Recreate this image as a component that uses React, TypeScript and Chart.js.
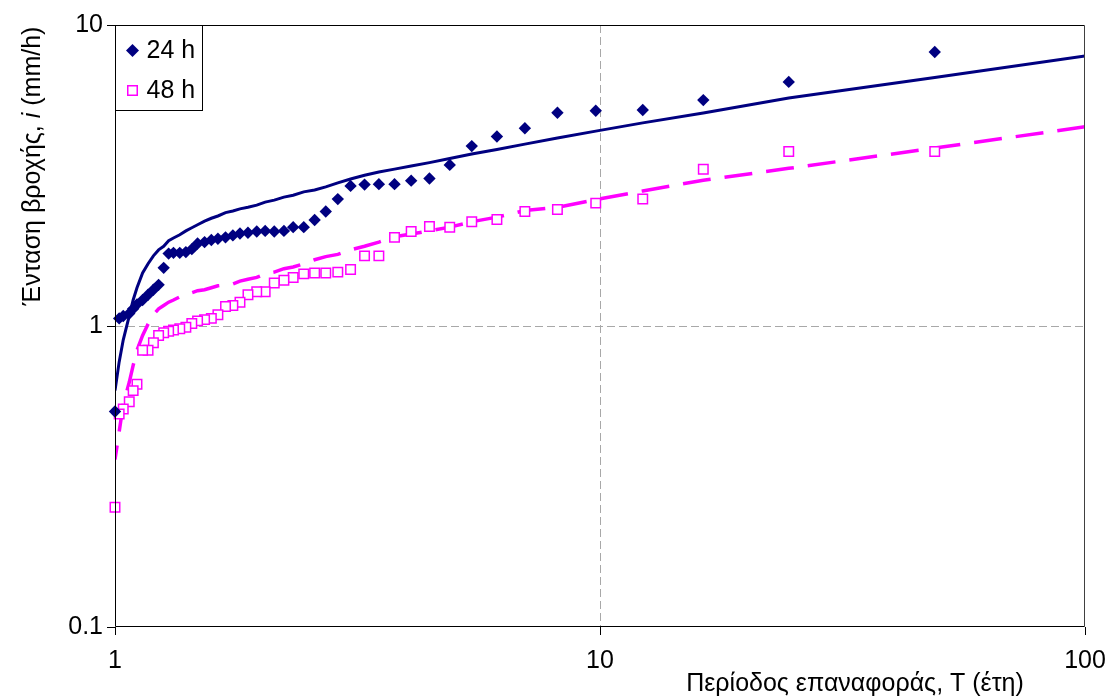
import React, { useEffect, useRef } from 'react';
import { Chart, registerables } from 'chart.js';

Chart.register(...registerables);

// Return periods (years), rank-based plotting positions
const periods = [
  49, 24.5, 16.33, 12.25, 9.8, 8.17, 7, 6.13, 5.44, 4.9,
  4.45, 4.08, 3.77, 3.5, 3.27, 3.06, 2.88, 2.72, 2.58, 2.45,
  2.33, 2.23, 2.13, 2.04, 1.96, 1.88, 1.81, 1.75, 1.69, 1.63,
  1.58, 1.53, 1.48, 1.44, 1.4, 1.36, 1.32, 1.29, 1.26, 1.23,
  1.2, 1.17, 1.14, 1.11, 1.09, 1.07, 1.04, 1.02, 1.0,
];

// Observed rainfall intensity (mm/h)
const intensity24 = [
  8.13, 6.47, 5.63, 5.22, 5.19, 5.11, 4.54, 4.26, 3.96, 3.43,
  3.09, 3.04, 2.96, 2.96, 2.95, 2.92, 2.64, 2.4, 2.25, 2.13,
  2.13, 2.07, 2.06, 2.07, 2.06, 2.04, 2.03, 2.0, 1.97, 1.95,
  1.93, 1.9, 1.88, 1.8, 1.76, 1.75, 1.75, 1.74, 1.56, 1.37,
  1.32, 1.27, 1.22, 1.18, 1.14, 1.1, 1.08, 1.06, 0.52,
];

const intensity48 = [
  3.8, 3.8, 3.32, 2.64, 2.56, 2.44, 2.4, 2.26, 2.22, 2.13,
  2.14, 2.06, 1.97, 1.71, 1.71, 1.54, 1.51, 1.5, 1.5, 1.49,
  1.45, 1.42, 1.39, 1.3, 1.3, 1.27, 1.2, 1.17, 1.16, 1.09,
  1.06, 1.05, 1.04, 1.02, 0.99, 0.98, 0.97, 0.96, 0.95, 0.93,
  0.88, 0.83, 0.83, 0.64, 0.61, 0.56, 0.53, 0.51, 0.25,
];

// Fitted distribution curves
const fitPeriods = [
  100, 49, 24.5, 16.33, 12.25, 9.8, 8.17, 7, 6.13, 5.44, 4.9,
  4.45, 4.08, 3.77, 3.5, 3.27, 3.06, 2.88, 2.72, 2.58, 2.45,
  2.33, 2.23, 2.13, 2.04, 1.96, 1.88, 1.81, 1.75, 1.69, 1.63,
  1.58, 1.53, 1.48, 1.44, 1.4, 1.36, 1.32, 1.29, 1.26, 1.23,
  1.2, 1.17, 1.14, 1.11, 1.09, 1.07, 1.04, 1.02, 1.0,
];

const fit24 = [
  7.89, 6.69, 5.72, 5.1, 4.73, 4.44, 4.21, 4.02, 3.86, 3.73, 3.6,
  3.49, 3.4, 3.32, 3.25, 3.17, 3.08, 2.99, 2.9, 2.83, 2.79,
  2.72, 2.68, 2.62, 2.58, 2.52, 2.48, 2.45, 2.41, 2.38, 2.32,
  2.28, 2.23, 2.17, 2.12, 2.07, 2.01, 1.96, 1.92, 1.84, 1.79,
  1.71, 1.61, 1.5, 1.34, 1.22, 1.08, 0.9, 0.76, 0.61,
];

const fit48 = [
  4.59, 3.9, 3.34, 3.05, 2.81, 2.63, 2.48, 2.42, 2.3, 2.22, 2.13,
  2.07, 2.02, 1.98, 1.9, 1.84, 1.79, 1.73, 1.7, 1.66, 1.61,
  1.57, 1.55, 1.51, 1.49, 1.45, 1.43, 1.41, 1.38, 1.37, 1.36,
  1.34, 1.32, 1.31, 1.29, 1.27, 1.25, 1.22, 1.2, 1.17, 1.14,
  1.09, 1.015, 0.93, 0.83, 0.74, 0.65, 0.55, 0.445, 0.36,
];

const xTicks = [1, 10, 100];
const yTicks = [0.1, 1, 10];
const legendLabels = ['24 h', '48 h'];
const xTitle = 'Περίοδος επαναφοράς, T (έτη)';
const yTitleParts = ['Ένταση βροχής, ', 'i', ' (mm/h)'];

const NAVY = '#000080';
const MAGENTA = '#FF00FF';
const GRID = '#a8a8a8';
const FONT = '"Liberation Sans", Arial, sans-serif';
const FS = 25;

const decor = {
  id: 'decor',
  afterDraw(chart: any) {
    const { ctx, chartArea: a } = chart;
    ctx.save();
    // frame
    ctx.strokeStyle = '#000';
    ctx.lineWidth = 1;
    const L = Math.round(a.left) + 0.5;
    const T = Math.round(a.top) + 0.5;
    const R = Math.round(a.right) - 0.5;
    const B = Math.round(a.bottom) - 0.5;
    ctx.beginPath();
    ctx.moveTo(L, B);
    ctx.lineTo(L, T);
    ctx.lineTo(R, T);
    ctx.stroke();
    ctx.strokeStyle = '#404040';
    ctx.beginPath();
    ctx.moveTo(R, T);
    ctx.lineTo(R, B);
    ctx.stroke();
    ctx.strokeStyle = '#000';
    ctx.beginPath();
    ctx.moveTo(L, B);
    ctx.lineTo(R, B);
    ctx.stroke();

    // legend
    const bx = L, by = T, bw = 87, bh = 85;
    ctx.fillStyle = '#fff';
    ctx.fillRect(bx, by, bw, bh);
    ctx.strokeStyle = '#000';
    ctx.strokeRect(bx, by, bw, bh);
    const rows = [by + 25, by + 65];
    const dx = bx + 17, dy = rows[0];
    ctx.fillStyle = NAVY;
    ctx.beginPath();
    ctx.moveTo(dx - 6.5, dy);
    ctx.lineTo(dx, dy - 6.5);
    ctx.lineTo(dx + 6.5, dy);
    ctx.lineTo(dx, dy + 6.5);
    ctx.closePath();
    ctx.fill();
    ctx.strokeStyle = MAGENTA;
    ctx.lineWidth = 1.5;
    ctx.fillStyle = '#fff';
    ctx.beginPath();
    ctx.rect(dx - 4.75, rows[1] - 4.75, 9.5, 9.5);
    ctx.fill();
    ctx.stroke();
    ctx.fillStyle = '#000';
    ctx.font = `${FS}px ${FONT}`;
    ctx.textAlign = 'left';
    ctx.textBaseline = 'middle';
    ctx.fillText(legendLabels[0], bx + 31, rows[0] + 1);
    ctx.fillText(legendLabels[1], bx + 31, rows[1] + 1);

    // x title
    ctx.textAlign = 'center';
    ctx.fillText(xTitle, 855, 684);

    // y title (rotated, italic i)
    ctx.save();
    ctx.translate(33, 166);
    ctx.rotate(-Math.PI / 2);
    const normal = `${FS}px ${FONT}`;
    const italic = `italic ${FS}px ${FONT}`;
    ctx.font = normal;
    const w1 = ctx.measureText(yTitleParts[0]).width;
    const w3 = ctx.measureText(yTitleParts[2]).width;
    ctx.font = italic;
    const w2 = ctx.measureText(yTitleParts[1]).width;
    let x0 = -(w1 + w2 + w3) / 2;
    ctx.textAlign = 'left';
    ctx.font = normal;
    ctx.fillText(yTitleParts[0], x0, 0);
    x0 += w1;
    ctx.font = italic;
    ctx.fillText(yTitleParts[1], x0, 0);
    x0 += w2;
    ctx.font = normal;
    ctx.fillText(yTitleParts[2], x0, 0);
    ctx.restore();

    ctx.restore();
  },
};

export default function App() {
  const ref = useRef<HTMLCanvasElement>(null);

  useEffect(() => {
    if (!ref.current) return;
    const pts = (xs: number[], ys: number[]) => xs.map((x, i) => ({ x, y: ys[i] }));
    const chart = new Chart(ref.current, {
      type: 'scatter',
      data: {
        datasets: [
          {
            label: legendLabels[0],
            data: pts(periods, intensity24),
            showLine: false,
            pointStyle: 'rectRot',
            pointRadius: 6.2,
            backgroundColor: NAVY,
            borderColor: NAVY,
            borderWidth: 0,
            clip: false,
          } as any,
          {
            label: legendLabels[1],
            data: pts(periods, intensity48),
            showLine: false,
            pointStyle: 'rect',
            pointRadius: 6.7,
            backgroundColor: '#ffffff',
            borderColor: MAGENTA,
            borderWidth: 1.5,
            clip: false,
          } as any,
          {
            label: 'fit 24 h',
            data: pts(fitPeriods, fit24),
            showLine: true,
            pointRadius: 0,
            borderColor: NAVY,
            borderWidth: 3,
            tension: 0,
          } as any,
          {
            label: 'fit 48 h',
            data: pts(fitPeriods, fit48),
            showLine: true,
            pointRadius: 0,
            borderColor: MAGENTA,
            borderWidth: 3.5,
            borderDash: [28, 14],
            tension: 0,
          } as any,
        ],
      },
      options: {
        animation: false,
        responsive: false,
        layout: { padding: { left: 0, top: 25, right: 25, bottom: 0 } },
        plugins: {
          legend: { display: false },
          tooltip: { enabled: false },
        },
        scales: {
          x: {
            type: 'logarithmic',
            min: 1,
            max: 100,
            afterBuildTicks: (s: any) => {
              s.ticks = xTicks.map((v) => ({ value: v }));
            },
            afterFit: (s: any) => {
              s.height = 71;
              s.paddingLeft = 0;
              s.paddingRight = 0;
            },
            ticks: {
              callback: (v: any) => String(v),
              font: { family: FONT, size: FS },
              color: '#000',
              padding: 11,
              maxRotation: 0,
              autoSkip: false,
            },
            grid: {
              color: (c: any) => (c.tick && c.tick.value === 10 ? GRID : 'rgba(0,0,0,0)'),
              tickColor: '#000',
              tickLength: 8,
              lineWidth: 1,
            },
            border: { display: false, dash: [8, 4] },
          },
          y: {
            type: 'logarithmic',
            min: 0.1,
            max: 10,
            afterBuildTicks: (s: any) => {
              s.ticks = yTicks.map((v) => ({ value: v }));
            },
            afterFit: (s: any) => {
              s.width = 115;
              s.paddingTop = 0;
              s.paddingBottom = 0;
            },
            ticks: {
              callback: (v: any) => String(v),
              font: { family: FONT, size: FS },
              color: '#000',
              padding: 4,
              autoSkip: false,
            },
            grid: {
              color: (c: any) => (c.tick && c.tick.value === 1 ? GRID : 'rgba(0,0,0,0)'),
              tickColor: '#000',
              tickLength: 8,
              lineWidth: 1,
            },
            border: { display: false, dash: [8, 4] },
          },
        },
      } as any,
      plugins: [decor],
    });
    return () => chart.destroy();
  }, []);

  return (
    <div style={{ position: 'absolute', left: 0, top: 0, width: 1110, height: 698, background: '#fff' }}>
      <canvas ref={ref} width={1110} height={698} style={{ display: 'block' }} />
    </div>
  );
}
